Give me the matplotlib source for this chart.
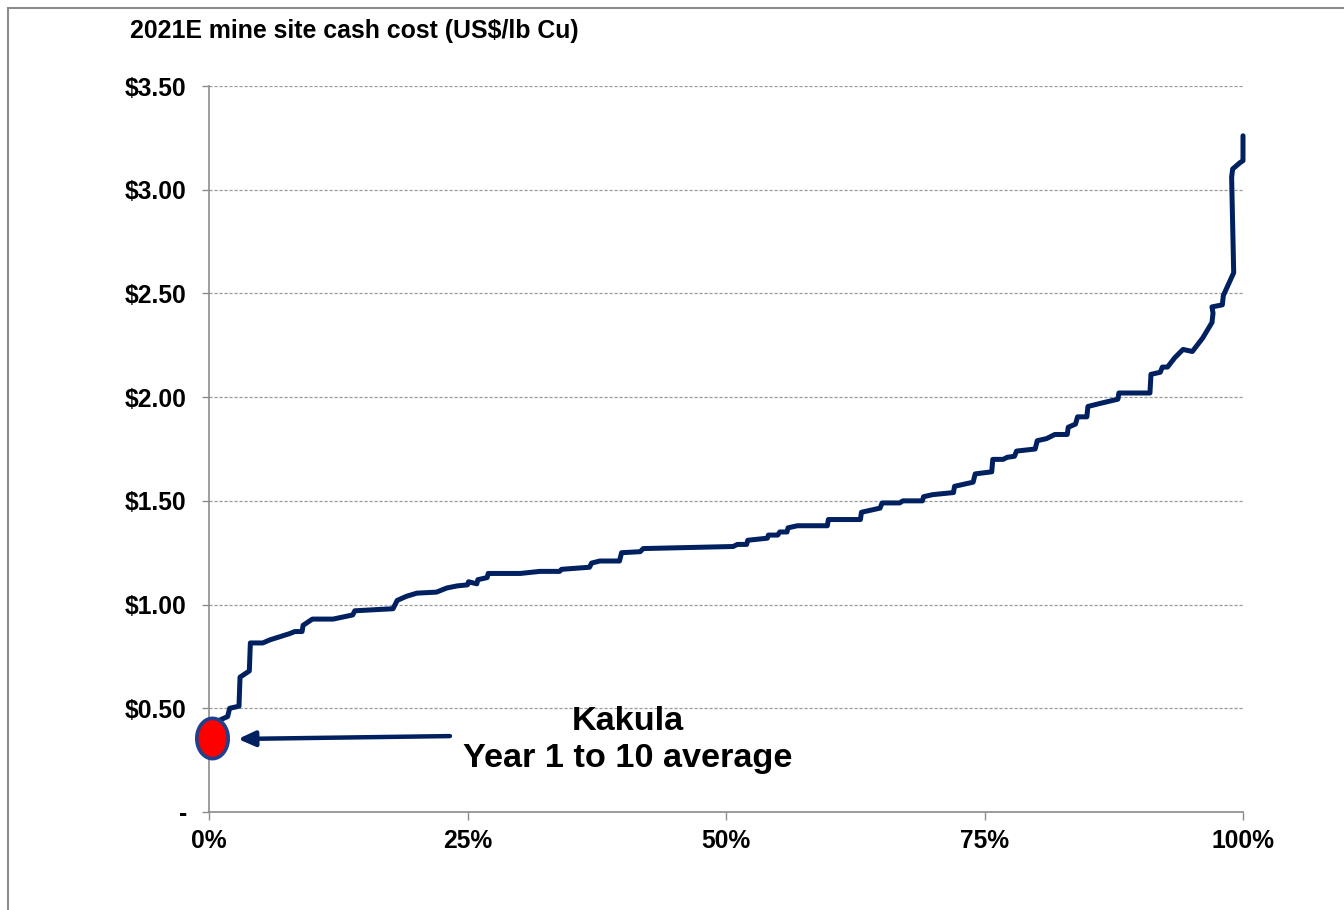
import matplotlib
matplotlib.use("Agg")
import matplotlib.pyplot as plt
import numpy as np
from matplotlib.path import Path
from matplotlib.patches import Rectangle

# cumulative share of copper production (%) vs cash cost (US$/lb)
cum_pct = [0.9, 1.8, 2.0, 2.9, 3.0, 3.9, 4.0, 5.2, 5.9, 7.8, 8.3, 9.0, 9.1, 10.0,
           12.0, 13.9, 14.1, 17.8, 18.2, 19.1, 20.1, 22.0, 23.0, 24.0, 25.0, 25.1,
           25.9, 26.0, 26.9, 27.0, 30.1, 32.0, 33.9, 34.1, 36.8, 37.0, 37.8, 39.7,
           39.9, 41.7, 42.0, 50.7, 51.1, 52.0, 52.1, 54.0, 54.1, 55.0, 55.2, 55.9,
           56.0, 56.9, 59.8, 59.9, 63.0, 63.1, 64.9, 65.1, 66.8, 67.1, 69.0, 69.1,
           70.0, 72.0, 72.1, 73.9, 74.1, 75.7, 75.8, 76.8, 77.2, 77.9, 78.1, 79.9,
           80.1, 81.0, 81.8, 83.0, 83.1, 83.8, 84.0, 84.9, 85.0, 86.2, 87.9, 88.0,
           91.0, 91.1, 92.0, 92.2, 92.7, 93.4, 94.2, 95.1, 96.1, 97.0, 97.1, 97.0,
           98.0, 98.1, 99.1, 98.9, 99.0, 99.7, 100.0, 100.0]
cash_cost = [0.44, 0.46, 0.50, 0.51, 0.65, 0.68, 0.815, 0.815, 0.83, 0.86, 0.87, 0.87,
             0.90, 0.93, 0.93, 0.95, 0.97, 0.98, 1.02, 1.04, 1.055, 1.06, 1.08, 1.09,
             1.095, 1.11, 1.10, 1.12, 1.13, 1.15, 1.15, 1.16, 1.16, 1.17, 1.18, 1.20,
             1.21, 1.21, 1.25, 1.255, 1.27, 1.28, 1.29, 1.29, 1.31, 1.32, 1.335, 1.335,
             1.35, 1.35, 1.37, 1.38, 1.38, 1.41, 1.41, 1.445, 1.465, 1.49, 1.49, 1.50,
             1.50, 1.52, 1.53, 1.54, 1.57, 1.59, 1.63, 1.64, 1.70, 1.70, 1.71, 1.715,
             1.74, 1.75, 1.79, 1.80, 1.82, 1.82, 1.855, 1.87, 1.905, 1.905, 1.955, 1.97,
             1.99, 2.02, 2.02, 2.11, 2.12, 2.145, 2.145, 2.19, 2.23, 2.22, 2.285, 2.36,
             2.405, 2.435, 2.445, 2.49, 2.60, 3.06, 3.10, 3.13, 3.14, 3.26]

kakula_pct = 0.3
kakula_cost = 0.357

y_ticks = [0, 0.5, 1.0, 1.5, 2.0, 2.5, 3.0, 3.5]
y_labels = ["-", "$0.50", "$1.00", "$1.50", "$2.00", "$2.50", "$3.00", "$3.50"]
x_ticks = [0, 25, 50, 75, 100]
x_labels = ["0%", "25%", "50%", "75%", "100%"]

plt.rcParams["font.family"] = ["Liberation Sans", "DejaVu Sans"]
plt.rcParams["font.weight"] = "bold"

navy = "#002060"
grey = "#8c8c8c"

fig = plt.figure(figsize=(13.44, 9.10), dpi=100)
ax = fig.add_axes([209 / 1344, 1 - 812 / 910, 1034 / 1344, 726 / 910])

# outer frame (runs off right and bottom edges)
fig.patches.append(Rectangle((8 / 1344, -0.5), 2, 1.5 - 8 / 910, transform=fig.transFigure,
                             fill=False, edgecolor=grey, linewidth=1.5))

ax.plot(cum_pct, cash_cost, color=navy, linewidth=3.6, solid_joinstyle="round",
        solid_capstyle="round", clip_on=False, zorder=3)

# ellipse marker for Kakula
t = np.linspace(0, 2 * np.pi, 60)
ell = Path(np.column_stack([0.78 * np.cos(t), np.sin(t)]))
ax.plot([kakula_pct], [kakula_cost], marker=ell, markersize=29, markerfacecolor="#ff0000",
        markeredgecolor="#1f3f8f", markeredgewidth=2.6, linestyle="none",
        clip_on=False, zorder=5)

ax.annotate("", xy=(2.8, 0.352), xytext=(23.3, 0.366),
            arrowprops=dict(arrowstyle="-|>,head_length=1.0,head_width=0.45",
                            color=navy, linewidth=3.2, shrinkA=0, shrinkB=0), zorder=4)
ax.text(40.5, 0.434, "Kakula", ha="center", va="center", fontsize=24.7,
        fontweight="bold", color="black")
ax.text(40.5, 0.256, "Year 1 to 10 average", ha="center", va="center", fontsize=24.7,
        fontweight="bold", color="black")

ax.set_xlim(0, 100)
ax.set_ylim(0, 3.5)
ax.set_yticks(y_ticks)
ax.set_yticklabels(y_labels)
ax.set_xticks(x_ticks)
ax.set_xticklabels(x_labels)
ax.tick_params(axis="y", length=5, color=grey, width=1, pad=11, labelsize=17.7)
ax.tick_params(axis="x", length=6, color=grey, width=1, pad=6, labelsize=17.7)
for lbl in ax.get_xticklabels() + ax.get_yticklabels():
    lbl.set_fontweight("bold")

ax.grid(axis="y", color="#999999", linestyle=(0, (2.5, 1.5)), linewidth=0.9)
ax.set_axisbelow(True)
for side in ["top", "right"]:
    ax.spines[side].set_visible(False)
for side in ["left", "bottom"]:
    ax.spines[side].set_color(grey)
    ax.spines[side].set_linewidth(1.2)

fig.text(130 / 1344, 1 - 31 / 910, "2021E mine site cash cost (US$/lb Cu)", ha="left",
         va="center", fontsize=17.9, fontweight="bold")

fig.savefig("out.png", dpi=100)
